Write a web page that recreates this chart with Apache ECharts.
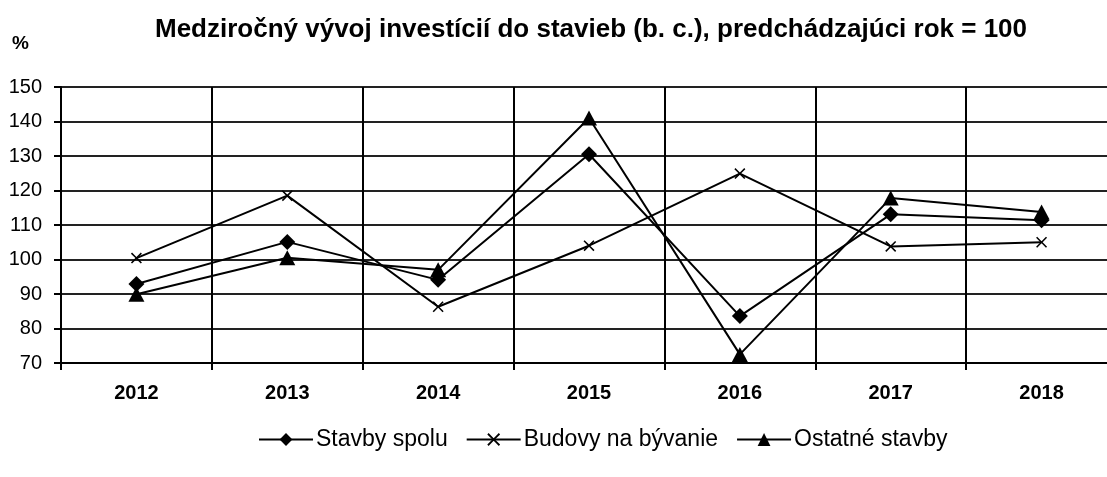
<!DOCTYPE html>
<html>
<head>
<meta charset="utf-8">
<script src="https://cdn.jsdelivr.net/npm/echarts@6/dist/echarts.min.js"></script>
<style>
  html, body { margin: 0; padding: 0; background: #fff; }
  #main { width: 1107px; height: 477px; }
</style>
</head>
<body>
<div id="main"></div>
<script>
// roky
var years = ['2012', '2013', '2014', '2015', '2016', '2017', '2018'];
// Stavby spolu
var stavbySpolu = [92.9, 105.1, 94.1, 130.5, 83.6, 113.1, 111.4];
// Budovy na bývanie
var budovy = [100.4, 118.5, 86.3, 104.0, 124.9, 103.8, 105.0];
// Ostatné stavby
var ostatne = [89.9, 100.5, 97.0, 141.0, 72.5, 117.8, 113.8];

var font = "'Liberation Sans', Arial, sans-serif";
var crossPath = 'path://M0,1L1,0L5,4L9,0L10,1L6,5L10,9L9,10L5,6L1,10L0,9L4,5Z';

var chart = echarts.init(document.getElementById('main'));
var option = {
  animation: false,
  textStyle: { fontFamily: font },
  title: [{
    text: 'Medziročný vývoj investícií do stavieb (b. c.), predchádzajúci rok = 100',
    left: 586,
    top: 12,
    textAlign: 'center',
    textStyle: { fontFamily: font, fontSize: 26, fontWeight: 'bold', color: '#000' }
  }, {
    text: '%',
    left: 7,
    top: 29,
    textStyle: { fontFamily: font, fontSize: 19, fontWeight: 'bold', color: '#000' }
  }],
  legend: {
    left: 253,
    top: 423,
    itemWidth: 54,
    itemHeight: 16,
    itemGap: 18,
    textStyle: { fontFamily: font, fontSize: 23, color: '#000', padding: [0, 0, 0, -2] },
    data: ['Stavby spolu', 'Budovy na bývanie', 'Ostatné stavby']
  },
  grid: { left: 61, top: 87, width: 1056, height: 276, outerBoundsMode: 'none' },
  xAxis: {
    type: 'category',
    data: years,
    boundaryGap: true,
    axisLine: { lineStyle: { color: '#000', width: 2 } },
    axisTick: { show: true, length: 7, lineStyle: { color: '#000', width: 2 } },
    splitLine: { show: true, lineStyle: { color: '#000', width: 2 } },
    axisLabel: { fontFamily: font, fontSize: 20, fontWeight: 'bold', color: '#000', margin: 20 }
  },
  yAxis: {
    type: 'value',
    min: 70,
    max: 150,
    interval: 10,
    axisLine: { show: true, lineStyle: { color: '#000', width: 2 } },
    axisTick: { show: true, length: 7, lineStyle: { color: '#000', width: 2 } },
    splitLine: { show: true, lineStyle: { color: '#222', width: 2 } },
    axisLabel: { fontFamily: font, fontSize: 20, color: '#000', margin: 19 }
  },
  series: [{
    name: 'Stavby spolu',
    type: 'line',
    data: stavbySpolu,
    symbol: 'diamond',
    symbolSize: 16,
    lineStyle: { color: '#000', width: 2 },
    itemStyle: { color: '#000' }
  }, {
    name: 'Budovy na bývanie',
    type: 'line',
    data: budovy,
    symbol: crossPath,
    symbolSize: 11,
    lineStyle: { color: '#000', width: 2 },
    itemStyle: { color: '#000' }
  }, {
    name: 'Ostatné stavby',
    type: 'line',
    data: ostatne,
    symbol: 'triangle',
    symbolSize: [16, 15],
    lineStyle: { color: '#000', width: 2 },
    itemStyle: { color: '#000' }
  }]
};

chart.setOption(option);
window.onresize = chart.resize;
</script>
</body>
</html>
